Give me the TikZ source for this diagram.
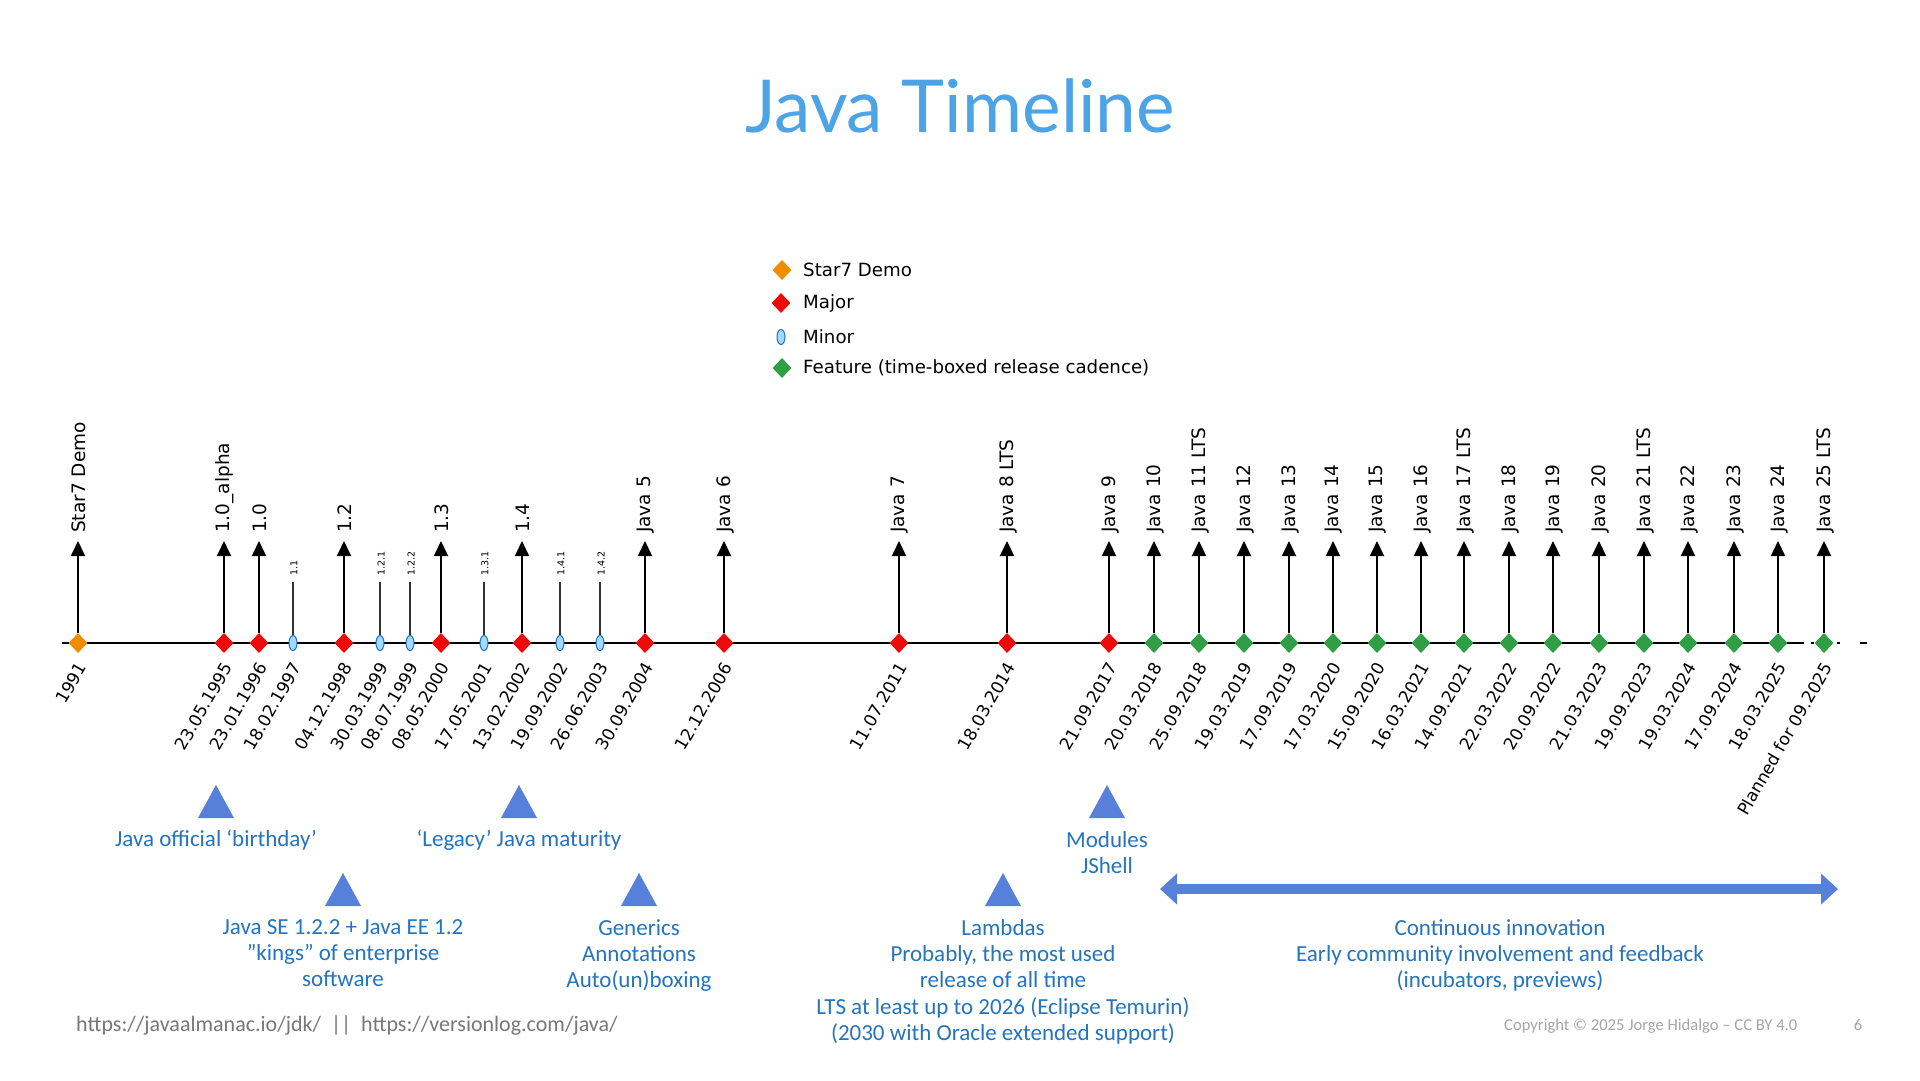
\documentclass[tikz,border=0pt]{standalone}
\usepackage{fontspec}
\setmainfont{Carlito}
\newfontfamily\hand{DejaVu Sans}
\newfontfamily\titlefont{Lato}
\usetikzlibrary{shapes.geometric,arrows.meta}
\definecolor{titleblue}{RGB}{76,163,230}
\definecolor{txtblue}{RGB}{36,116,190}
\definecolor{triblue}{RGB}{86,128,217}
\definecolor{startc}{RGB}{240,140,0}
\definecolor{majorc}{RGB}{238,10,10}
\definecolor{featc}{RGB}{47,158,68}
\definecolor{minfill}{RGB}{165,216,255}
\definecolor{mindraw}{RGB}{25,113,194}
\definecolor{footgray}{RGB}{120,120,120}
\definecolor{copygray}{RGB}{165,165,165}
\tikzset{
  dia/.style={diamond, inner sep=0pt, minimum width=19pt, minimum height=20pt},
  startd/.style={dia, fill=startc},
  majord/.style={dia, fill=majorc},
  featd/.style={dia, fill=featc},
  minord/.style={ellipse, inner sep=0pt, minimum width=8pt, minimum height=15pt, fill=minfill, draw=mindraw, line width=1pt},
  relarrow/.style={line width=2pt, -{Triangle[width=14pt,length=15pt]}},
  minline/.style={line width=1.2pt, draw=black!80},
  vlabel/.style={rotate=90, anchor=west, inner sep=0pt, font=\hand\fontsize{18.5}{20}\selectfont},
  mlabel/.style={rotate=90, anchor=west, inner sep=0pt, font=\hand\fontsize{9.5}{10}\selectfont},
  dlabel/.style={rotate=60, anchor=east, inner sep=0pt, font=\hand\fontsize{17}{18}\selectfont},
  legtext/.style={anchor=west, inner sep=0pt, font=\hand\fontsize{18.2}{20}\selectfont},
  bluetext/.style={align=center, text=txtblue, font=\fontsize{23}{26.3}\selectfont, inner sep=0pt},
  trishape/.style={fill=triblue},
  bigarrow/.style={draw=triblue, line width=9.5pt, {Triangle[width=30pt,length=17pt]}-{Triangle[width=30pt,length=17pt]}}
}
% name, x, date, label, style
\newcommand\majrel[5]{%
  \node[#5] (m#1) at (#2,643) {};
  \coordinate (a#1) at (#2,541);
  \draw[relarrow] (m#1) -- (a#1);
  \node[vlabel] (l#1) at (#2+1,533) {#4};
  \node[dlabel] (d#1) at (#2+4,664) {#3};
}
\newcommand\minrel[4]{%
  \node[minord] (m#1) at (#2,643) {};
  \coordinate (a#1) at (#2,582);
  \draw[minline] (m#1) -- (a#1);
  \node[mlabel] (l#1) at (#2+1,576) {#4};
  \node[dlabel] (d#1) at (#2+4,664) {#3};
}
\newcommand\tri[2]{\fill[trishape] (#1-18,#2+33) -- (#1,#2) -- (#1+18,#2+33) -- cycle;}
\begin{document}
\begin{tikzpicture}[x=1pt,y=-1pt]
\path[use as bounding box, fill=white] (0,0) rectangle (1920,1080);
% title
\node[text=titleblue, font=\titlefont\fontsize{73}{80}\selectfont, anchor=base, inner sep=0pt] (title) at (960,132) {Java Timeline};
% legend
\node[startd] (lg1) at (782,270) {};
\node[legtext] (lt1) at (803,270) {Star7 Demo};
\node[majord] (lg2) at (781,303) {};
\node[legtext] (lt2) at (803,303) {Major};
\node[minord] (lg3) at (781,337) {};
\node[legtext] (lt3) at (803,337) {Minor};
\node[featd] (lg4) at (782,368) {};
\node[legtext] (lt4) at (803,368) {Feature (time-boxed release cadence)};
% axis
\coordinate (ax0) at (62,643);
\coordinate (ax1) at (1797,643);
\coordinate (ax2) at (1868,643);
\draw[line width=2pt] (ax0) -- (ax1);
\draw[line width=2pt, dash pattern=on 7pt off 7pt on 3pt off 6pt on 12pt off 5pt on 3pt off 20pt] (ax1) -- (ax2);
% releases
\majrel{1}{78}{1991}{Star7 Demo}{startd}
\majrel{2}{224}{23.05.1995}{1.0\_alpha}{majord}
\majrel{3}{259}{23.01.1996}{1.0}{majord}
\minrel{4}{293}{18.02.1997}{1.1}
\majrel{5}{344}{04.12.1998}{1.2}{majord}
\minrel{6}{380}{30.03.1999}{1.2.1}
\minrel{7}{410}{08.07.1999}{1.2.2}
\majrel{8}{441}{08.05.2000}{1.3}{majord}
\minrel{9}{484}{17.05.2001}{1.3.1}
\majrel{10}{522}{13.02.2002}{1.4}{majord}
\minrel{11}{560}{19.09.2002}{1.4.1}
\minrel{12}{600}{26.06.2003}{1.4.2}
\majrel{13}{645}{30.09.2004}{Java 5}{majord}
\majrel{14}{724}{12.12.2006}{Java 6}{majord}
\majrel{15}{899}{11.07.2011}{Java 7}{majord}
\majrel{16}{1007}{18.03.2014}{Java 8 LTS}{majord}
\majrel{17}{1109}{21.09.2017}{Java 9}{majord}
\majrel{18}{1154}{20.03.2018}{Java 10}{featd}
\majrel{19}{1199}{25.09.2018}{Java 11 LTS}{featd}
\majrel{20}{1244}{19.03.2019}{Java 12}{featd}
\majrel{21}{1289}{17.09.2019}{Java 13}{featd}
\majrel{22}{1333}{17.03.2020}{Java 14}{featd}
\majrel{23}{1377}{15.09.2020}{Java 15}{featd}
\majrel{24}{1421}{16.03.2021}{Java 16}{featd}
\majrel{25}{1464}{14.09.2021}{Java 17 LTS}{featd}
\majrel{26}{1509}{22.03.2022}{Java 18}{featd}
\majrel{27}{1553}{20.09.2022}{Java 19}{featd}
\majrel{28}{1599}{21.03.2023}{Java 20}{featd}
\majrel{29}{1644}{19.09.2023}{Java 21 LTS}{featd}
\majrel{30}{1688}{19.03.2024}{Java 22}{featd}
\majrel{31}{1734}{17.09.2024}{Java 23}{featd}
\majrel{32}{1778}{18.03.2025}{Java 24}{featd}
\majrel{33}{1824}{Planned for 09.2025}{Java 25 LTS}{featd}
% milestones
\tri{216}{785}
\node[bluetext, anchor=base] (n1) at (216,846) {Java official ‘birthday’};
\tri{519}{785}
\node[bluetext, anchor=base] (n2) at (519,846) {‘Legacy’ Java maturity};
\tri{343}{873}
\node[bluetext, anchor=north] (n3) at (343,919) {Java SE 1.2.2 + Java EE 1.2\\”kings” of enterprise\\software};
\tri{639}{873}
\node[bluetext, anchor=north] (n4) at (639,919) {Generics\\Annotations\\Auto(un)boxing};
\tri{1107}{785}
\node[bluetext, anchor=north] (n5) at (1107,831) {Modules\\JShell};
\tri{1003}{873}
\node[bluetext, anchor=north] (n6) at (1003,919) {Lambdas\\Probably, the most used\\release of all time\\LTS at least up to 2026 (Eclipse Temurin)\\(2030 with Oracle extended support)};
\coordinate (ca) at (1160,889);
\coordinate (cb) at (1838,889);
\draw[bigarrow] (ca) -- (cb);
\node[bluetext, anchor=north] (n7) at (1500,919) {Continuous innovation\\Early community involvement and feedback\\(incubators, previews)};
% footer
\node[anchor=base west, inner sep=0pt, text=footgray, font=\fontsize{22}{24}\selectfont] (f1) at (76,1031) {https://javaalmanac.io/jdk/ \ || \ https://versionlog.com/java/};
\node[anchor=base west, inner sep=0pt, text=copygray, font=\fontsize{16.6}{18}\selectfont] (f2) at (1504,1030) {Copyright © 2025 Jorge Hidalgo – CC BY 4.0};
\node[anchor=base, inner sep=0pt, text=copygray, font=\fontsize{16.6}{18}\selectfont] (f3) at (1858,1030) {6};
\end{tikzpicture}
\end{document}
